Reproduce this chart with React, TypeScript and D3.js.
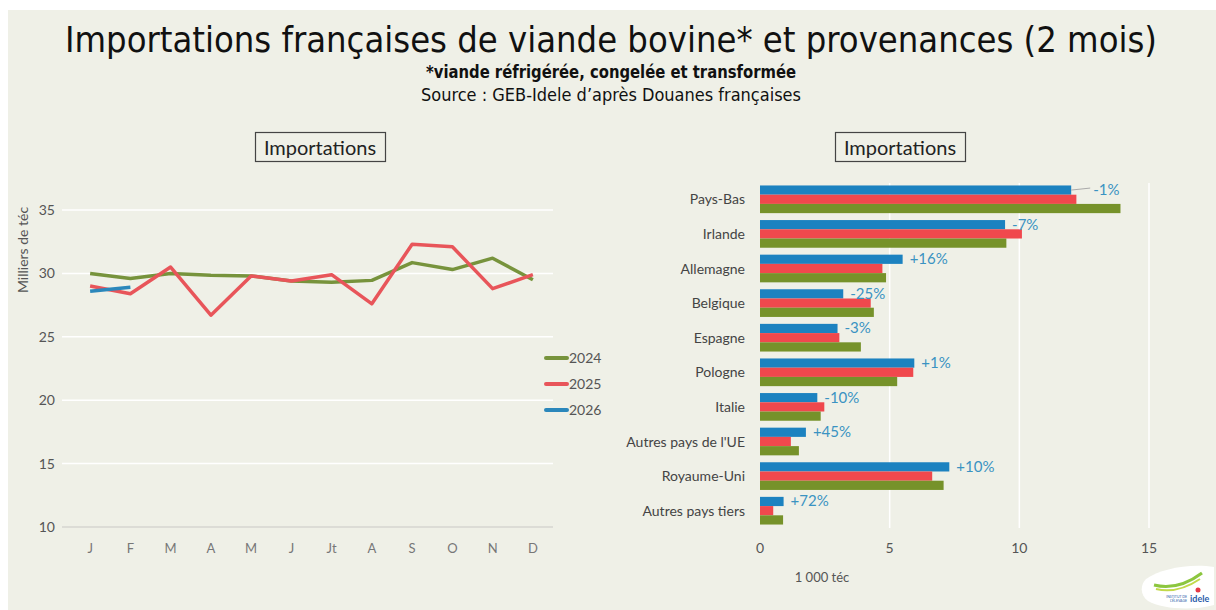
import React from 'react';
import * as d3 from 'd3';

// monthly imports, thousand téc
const months = ['J', 'F', 'M', 'A', 'M', 'J', 'Jt', 'A', 'S', 'O', 'N', 'D'];
const imp2024 = [30.0, 29.6, 30.0, 29.85, 29.8, 29.4, 29.3, 29.45, 30.85, 30.3, 31.2, 29.5];
const imp2025 = [29.0, 28.4, 30.5, 26.7, 29.8, 29.4, 29.9, 27.6, 32.3, 32.1, 28.8, 29.9];
const imp2026 = [28.6, 28.9];
const yTicks = [10, 15, 20, 25, 30, 35];

// origins, 2 months, thousand téc
const countries = [
  'Pays-Bas', 'Irlande', 'Allemagne', 'Belgique', 'Espagne',
  'Pologne', 'Italie', "Autres pays de l'UE", 'Royaume-Uni', 'Autres pays tiers',
];
const orig2026 = [12.0, 9.45, 5.5, 3.21, 2.99, 5.95, 2.21, 1.77, 7.3, 0.91];
const orig2025 = [12.2, 10.1, 4.72, 4.27, 3.06, 5.91, 2.48, 1.19, 6.64, 0.51];
const orig2024 = [13.9, 9.5, 4.86, 4.39, 3.89, 5.29, 2.34, 1.5, 7.08, 0.89];
const changes = ['-1%', '-7%', '+16%', '-25%', '-3%', '+1%', '-10%', '+45%', '+10%', '+72%'];
const xTicks = [0, 5, 10, 15];

const GREEN_LINE = '#77933c';
const RED_LINE = '#e8555a';
const BLUE_LINE = '#2b87bb';
const GREEN = '#76922a';
const RED = '#f0484d';
const BLUE = '#1c82c0';
const BG = '#eff0e7';
const FONT = 'Lato, "Open Sans", sans-serif';
const COND = '"Liberation Sans Narrow", "DejaVu Sans Condensed", "Roboto Condensed", sans-serif';

const LineChart = () => {
  const x = d3.scaleBand<number>().domain(d3.range(12)).range([70, 553]);
  const y = d3.scaleLinear().domain([10, 35]).range([527, 210]);
  const line = d3
    .line<number>()
    .x((_, i) => (x(i) ?? 0) + x.bandwidth() / 2)
    .y((d) => y(d));
  const series = [
    { name: '2024', values: imp2024, color: GREEN_LINE },
    { name: '2025', values: imp2025, color: RED_LINE },
    { name: '2026', values: imp2026, color: BLUE_LINE },
  ];
  return (
    <g fontFamily={FONT}>
      <rect x={255.5} y={132.5} width={130} height={29} fill="none" stroke="#444" strokeWidth={1.2} />
      <text x={320} y={155} textAnchor="middle" fontSize={20} fill="#222">Importations</text>
      {yTicks.map((t) => (
        <g key={t}>
          <line x1={62} x2={553} y1={y(t)} y2={y(t)} stroke={t === 10 ? '#d6d6d0' : '#ffffff'} strokeWidth={1.5} />
          <text x={55} y={y(t) + 5} textAnchor="end" fontSize={14} fill="#555">{t}</text>
        </g>
      ))}
      {months.map((m, i) => (
        <text key={i} x={(x(i) ?? 0) + x.bandwidth() / 2} y={553} textAnchor="middle" fontSize={13} fill="#777">{m}</text>
      ))}
      <text transform="translate(28,250) rotate(-90)" textAnchor="middle" fontSize={14} fill="#555">Milliers de téc</text>
      {series.map((s) => (
        <path key={s.name} d={line(s.values) ?? ''} fill="none" stroke={s.color} strokeWidth={3.5} strokeLinejoin="round" />
      ))}
      {series.map((s, i) => (
        <g key={s.name} transform={`translate(546,${358 + i * 26})`}>
          <line x1={0} x2={21} y1={0} y2={0} stroke={s.color} strokeWidth={4} strokeLinecap="round" />
          <text x={23} y={5} fontSize={14} fill="#555">{s.name}</text>
        </g>
      ))}
    </g>
  );
};

const BarChart = () => {
  const x = d3.scaleLinear().domain([0, 15]).range([760, 1149]);
  const y = d3.scaleBand<string>().domain(countries).range([182, 528]).paddingInner(0.2).paddingOuter(0.1);
  const sub = d3.scaleBand<string>().domain(['2026', '2025', '2024']).range([0, y.bandwidth()]);
  const series = [
    { name: '2026', values: orig2026, color: BLUE },
    { name: '2025', values: orig2025, color: RED },
    { name: '2024', values: orig2024, color: GREEN },
  ];
  return (
    <g fontFamily={FONT}>
      <rect x={835.5} y={132.5} width={130} height={29} fill="none" stroke="#444" strokeWidth={1.2} />
      <text x={900} y={155} textAnchor="middle" fontSize={20} fill="#222">Importations</text>
      {xTicks.map((t) => (
        <g key={t}>
          {t > 0 && <line x1={x(t)} x2={x(t)} y1={183} y2={528} stroke="#ffffff" strokeWidth={1.5} />}
          <text x={x(t)} y={553} textAnchor="middle" fontSize={14} fill="#555">{t}</text>
        </g>
      ))}
      <text x={822} y={582} textAnchor="middle" fontSize={13} fill="#555">1 000 téc</text>
      {countries.map((c, i) => {
        const top = y(c) ?? 0;
        const blueEnd = x(orig2026[i]);
        const cy = top + (sub('2026') ?? 0) + sub.bandwidth() / 2;
        // first label sits past the longer bars with a leader line
        const lx = i === 0 ? blueEnd + 22 : blueEnd + 7;
        return (
          <g key={c}>
            <text x={745} y={top + y.bandwidth() / 2 + 5} textAnchor="end" fontSize={14} fill="#444">{c}</text>
            {series.map((s) => (
              <rect key={s.name} x={x(0)} y={top + (sub(s.name) ?? 0)} width={x(s.values[i]) - x(0)} height={sub.bandwidth()} fill={s.color} />
            ))}
            {i === 0 && <line x1={blueEnd} x2={lx - 3} y1={cy} y2={cy - 2} stroke="#aaa" strokeWidth={1} />}
            <text x={lx} y={cy + 5} fontSize={15} fill="#3a93c2">{changes[i]}</text>
          </g>
        );
      })}
    </g>
  );
};

const Logo = () => (
  <g transform="translate(1140,565)">
    <path d="M6,14 C20,4 50,-2 74,2 L74,40 C52,46 22,44 8,36 C0,30 0,20 6,14 Z" fill="#ffffff" />
    <path d="M14,20 C30,24 46,20 62,8" fill="none" stroke="#8cc63f" strokeWidth={3} />
    <path d="M16,24 C32,28 48,22 60,14" fill="none" stroke="#c2d94a" strokeWidth={2} />
    <circle cx={58} cy={25} r={2.5} fill="#e63946" />
    <text x={50} y={37} fontSize={9} fontWeight="bold" fill="#2a5caa" fontFamily={FONT}>idele</text>
    <text x={47} y={33} textAnchor="end" fontSize={3.5} fill="#2a5caa" fontFamily={FONT}>INSTITUT DE</text>
    <text x={47} y={37} textAnchor="end" fontSize={3.5} fill="#2a5caa" fontFamily={FONT}>L'ÉLEVAGE</text>
  </g>
);

export default function App() {
  return (
    <svg width={1216} height={610} style={{ position: 'absolute', left: 0, top: 0 }}>
      <rect width={1216} height={610} fill="#ffffff" />
      <rect x={8} y={10} width={1208} height={600} fill={BG} />
      <text x={611} y={52} textAnchor="middle" fontSize={36} fill="#111" fontFamily={COND} textLength={1092} lengthAdjust="spacingAndGlyphs">
        Importations françaises de viande bovine* et provenances (2 mois)
      </text>
      <text x={611} y={78} textAnchor="middle" fontSize={17} fontWeight="bold" fill="#111" fontFamily={COND} textLength={370} lengthAdjust="spacingAndGlyphs">
        *viande réfrigérée, congelée et transformée
      </text>
      <text x={611} y={101} textAnchor="middle" fontSize={17} fill="#111" fontFamily={COND} textLength={380} lengthAdjust="spacingAndGlyphs">
        Source : GEB-Idele d’après Douanes françaises
      </text>
      <LineChart />
      <BarChart />
      <Logo />
    </svg>
  );
}
